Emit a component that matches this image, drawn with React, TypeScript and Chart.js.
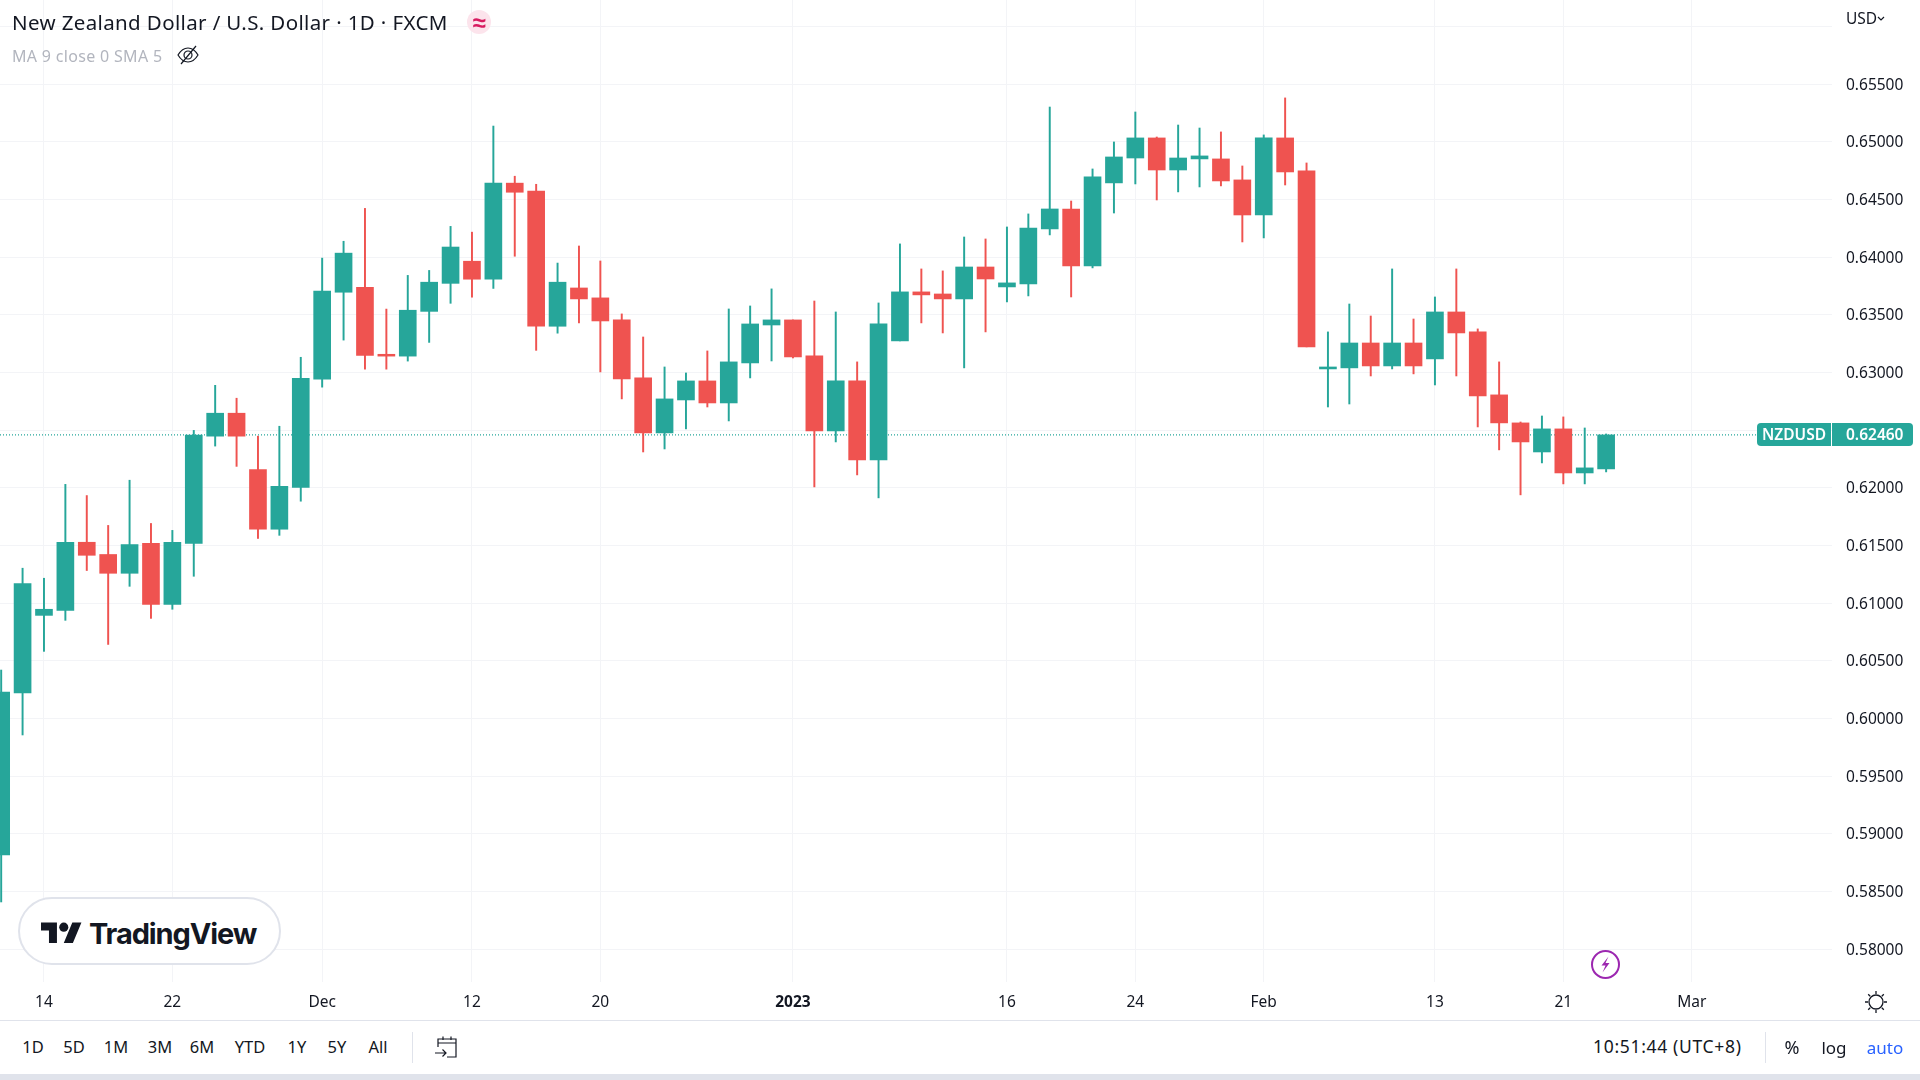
import React, { useEffect, useRef } from "react";
import { Chart, registerables } from "chart.js";

Chart.register(...registerables);

const dates = [
  "2022-11-10","2022-11-11","2022-11-14","2022-11-15","2022-11-16","2022-11-17","2022-11-18",
  "2022-11-21","2022-11-22","2022-11-23","2022-11-24","2022-11-25","2022-11-28","2022-11-29","2022-11-30",
  "2022-12-01","2022-12-02","2022-12-05","2022-12-06","2022-12-07","2022-12-08","2022-12-09",
  "2022-12-12","2022-12-13","2022-12-14","2022-12-15","2022-12-16","2022-12-19","2022-12-20","2022-12-21",
  "2022-12-22","2022-12-23","2022-12-26","2022-12-27","2022-12-28","2022-12-29","2022-12-30",
  "2023-01-02","2023-01-03","2023-01-04","2023-01-05","2023-01-06","2023-01-09","2023-01-10","2023-01-11",
  "2023-01-12","2023-01-13","2023-01-16","2023-01-17","2023-01-18","2023-01-19","2023-01-20",
  "2023-01-23","2023-01-24","2023-01-25","2023-01-26","2023-01-27","2023-01-30","2023-01-31",
  "2023-02-01","2023-02-02","2023-02-03","2023-02-06","2023-02-07","2023-02-08","2023-02-09","2023-02-10",
  "2023-02-13","2023-02-14","2023-02-15","2023-02-16","2023-02-17","2023-02-20","2023-02-21","2023-02-22","2023-02-23",
];
const opens = [
  0.58817,0.60222,0.60895,0.60938,0.61529,0.61423,0.6126,
  0.61519,0.60991,0.61519,0.62449,0.62648,0.6216,0.61642,0.62004,
  0.62944,0.63697,0.6374,0.63159,0.63143,0.63531,0.63774,
  0.63966,0.6381,0.64643,0.64574,0.63402,0.63734,0.63648,0.63457,
  0.62954,0.62477,0.62763,0.62928,0.62737,0.63084,0.63413,
  0.63457,0.63145,0.62494,0.62928,0.62243,0.63275,0.637,0.63682,
  0.63639,0.63916,0.63743,0.63769,0.64246,0.64419,0.63925,
  0.64645,0.64861,0.65035,0.64757,0.64853,0.64853,0.64671,
  0.64367,0.65035,0.64749,0.63032,0.63041,0.63257,0.63058,0.63257,
  0.63119,0.63526,0.63353,0.62807,0.62564,0.62312,0.62512,0.6213,0.62165,
];
const highs = [
  0.60421,0.61304,0.61217,0.62031,0.61934,0.61675,0.62067,
  0.61692,0.61632,0.62499,0.6289,0.62778,0.62449,0.62535,0.63133,
  0.63993,0.64139,0.64424,0.63551,0.63843,0.63886,0.64268,
  0.64218,0.65138,0.64703,0.64633,0.6395,0.64098,0.63968,0.63509,
  0.63309,0.63049,0.62997,0.63188,0.63552,0.63578,0.63726,
  0.63457,0.63621,0.63526,0.63093,0.63604,0.64116,0.63899,0.63882,
  0.64176,0.64159,0.64263,0.64376,0.65303,0.64488,0.64766,
  0.65,0.6526,0.65043,0.65147,0.65121,0.65087,0.64792,
  0.65061,0.65382,0.64818,0.63353,0.63595,0.63491,0.63899,0.63465,
  0.63656,0.63899,0.63379,0.63093,0.62572,0.62624,0.62616,0.6252,0.62468,
];
const lows = [
  0.5841,0.59858,0.60583,0.60852,0.61284,0.60643,0.61147,
  0.60869,0.60948,0.61234,0.62363,0.62187,0.61562,0.61589,0.61885,
  0.62874,0.63282,0.6303,0.6303,0.631,0.63262,0.63601,
  0.63654,0.6373,0.64009,0.63193,0.63342,0.63431,0.63006,0.62772,
  0.62312,0.62338,0.62512,0.62702,0.62581,0.62954,0.63101,
  0.63127,0.62009,0.62399,0.62113,0.61914,0.63275,0.63431,0.63344,
  0.63041,0.63353,0.63613,0.63665,0.64194,0.63656,0.63908,
  0.64384,0.64636,0.64497,0.64567,0.6461,0.64619,0.64133,
  0.64168,0.64627,0.63223,0.62702,0.62728,0.62971,0.63032,0.62989,
  0.62893,0.62971,0.62529,0.6233,0.6194,0.62217,0.62035,0.62035,0.62139,
];
const closes = [
  0.60231,0.61171,0.60948,0.61529,0.61416,0.6126,0.61509,
  0.60991,0.61529,0.62459,0.62648,0.62449,0.61642,0.62014,0.6295,
  0.63707,0.64036,0.63149,0.63143,0.63541,0.63784,0.64089,
  0.6381,0.64643,0.64564,0.63402,0.63784,0.63639,0.63448,0.62945,
  0.62477,0.62772,0.62928,0.62737,0.63093,0.63422,0.63457,
  0.63136,0.62494,0.62928,0.62243,0.63422,0.637,0.63674,0.63639,
  0.63916,0.63812,0.63778,0.64254,0.64419,0.63925,0.64697,
  0.6487,0.65035,0.64757,0.64861,0.64879,0.64662,0.64367,
  0.65035,0.6474,0.63223,0.63049,0.63257,0.63058,0.63257,0.63058,
  0.63526,0.63344,0.62798,0.62564,0.62399,0.62512,0.6213,0.62174,0.6246,
];
const lastPrice = 0.6246;
const priceTicks = [0.58,0.585,0.59,0.595,0.6,0.605,0.61,0.615,0.62,0.625,0.63,0.635,0.64,0.645,0.65,0.655,0.66];
const tickIndices = [2, 8, 15, 22, 28, 37, 47, 53, 59, 67, 73, 79];
const tickLabels = ["14", "22", "Dec", "12", "20", "2023", "16", "24", "Feb", "13", "21", "Mar"];
const intervals = ["1D", "5D", "1M", "3M", "6M", "YTD", "1Y", "5Y", "All"];
const intervalCenters = [33, 74, 116, 160, 202, 250, 297, 337, 378];

const UP = "#26a69a";
const DOWN = "#ef5350";
const GRID = "#f3f4f7";
const INK = "#131722";
const FONT = '"Noto Sans", sans-serif';
const X_MIN = -0.055;
const X_MAX = 85.555;

function T(props: { x: number; y: number; s?: number; c?: string; w?: number; a?: "l" | "c"; ls?: number; children: any }) {
  const { x, y, s = 15.5, c = INK, w = 400, a = "l", ls = 0, children } = props;
  return (
    <div
      style={{
        position: "absolute",
        left: x,
        top: y,
        transform: a === "c" ? "translate(-50%,-50%)" : "translateY(-50%)",
        fontFamily: FONT,
        fontSize: s,
        fontWeight: w,
        color: c,
        letterSpacing: ls,
        whiteSpace: "nowrap",
        lineHeight: 1,
      }}
    >
      {children}
    </div>
  );
}

const noPad = (s: any) => {
  s.paddingTop = 0;
  s.paddingBottom = 0;
  s.paddingLeft = 0;
  s.paddingRight = 0;
};

export default function App() {
  const ref = useRef<HTMLCanvasElement | null>(null);
  useEffect(() => {
    document.body.style.margin = "0";
    document.body.style.overflow = "hidden";
    const colors = closes.map((c, i) => (c >= opens[i] ? UP : DOWN));
    const chart = new Chart(ref.current as HTMLCanvasElement, {
      type: "bar",
      data: {
        datasets: [
          {
            type: "bar",
            grouped: false,
            order: 1,
            barThickness: 17,
            backgroundColor: colors,
            data: dates.map((_, i) => ({ x: i, y: [Math.min(opens[i], closes[i]), Math.max(opens[i], closes[i])] })),
          },
          {
            type: "bar",
            grouped: false,
            order: 2,
            barThickness: 1.3,
            backgroundColor: colors,
            data: dates.map((_, i) => ({ x: i, y: [lows[i], highs[i]] })),
          },
          {
            type: "line",
            order: 3,
            borderColor: UP,
            borderWidth: 1.4,
            borderDash: [1, 2],
            pointRadius: 0,
            data: [
              { x: X_MIN, y: lastPrice },
              { x: X_MAX, y: lastPrice },
            ],
          },
        ] as any,
      },
      options: {
        animation: false,
        responsive: false,
        devicePixelRatio: 1,
        layout: { padding: 0 },
        plugins: { legend: { display: false }, tooltip: { enabled: false } },
        scales: {
          x: {
            type: "linear",
            offset: false,
            min: X_MIN,
            max: X_MAX,
            border: { display: false },
            grid: { color: GRID, drawTicks: false, offset: false },
            afterBuildTicks: (s: any) => {
              s.ticks = tickIndices.map((value) => ({ value }));
            },
            afterFit: (s: any) => {
              s.height = 38;
              noPad(s);
            },
            ticks: {
              autoSkip: false,
              maxRotation: 0,
              padding: 11,
              color: INK,
              font: (ctx: any) => ({
                family: FONT,
                size: 15.5,
                weight: ctx.tick && ctx.tick.label === "2023" ? "bold" : "normal",
              }),
              callback: (v: any) => tickLabels[tickIndices.indexOf(v)] ?? "",
            },
          },
          y: {
            type: "linear",
            position: "right",
            min: 0.57716,
            max: 0.66231,
            border: { display: false },
            grid: { color: GRID, drawTicks: false },
            afterBuildTicks: (s: any) => {
              s.ticks = priceTicks.map((value) => ({ value }));
            },
            afterFit: (s: any) => {
              s.width = 88;
              noPad(s);
            },
            ticks: {
              autoSkip: false,
              padding: 14,
              labelOffset: 1,
              color: INK,
              font: { family: FONT, size: 15.5 },
              callback: (v: any) => (Number(v) > 0.6575 ? "" : Number(v).toFixed(5)),
            },
          },
        },
      } as any,
    });
    return () => chart.destroy();
  }, []);

  return (
    <div style={{ position: "relative", width: 1920, height: 1080, overflow: "hidden", background: "#fff" }}>
      <canvas ref={ref} width={1920} height={1020} style={{ display: "block", width: 1920, height: 1020 }} />

      <T x={12} y={22} s={20.5} ls={0.37}>New Zealand Dollar / U.S. Dollar · 1D · FXCM</T>
      <div style={{ position: "absolute", left: 467, top: 10, width: 24, height: 24, borderRadius: 12, background: "#fce4ec" }} />
      <T x={479} y={22} s={24} c="#d81b60" w={700} a="c">≈</T>
      <T x={12} y={56} s={16} c="#b2b5be" ls={0.32}>MA 9 close 0 SMA 5</T>
      <svg style={{ position: "absolute", left: 176, top: 44 }} width={24} height={22} viewBox="0 0 24 22" fill="none" stroke={INK} strokeWidth={1.2}>
        <path d="M2 11c3-5 6.5-7 10-7s7 2 10 7c-3 5-6.5 7-10 7s-7-2-10-7z" />
        <circle cx={12} cy={11} r={4} />
        <path d="M5 20L20 2" />
      </svg>

      <T x={1846} y={18.5} s={15.5}>USD</T>
      <svg style={{ position: "absolute", left: 1877, top: 16 }} width={8} height={6} viewBox="0 0 8 6" fill="none" stroke={INK} strokeWidth={1.2}>
        <path d="M1 1l3 3 3-3" />
      </svg>

      <div style={{ position: "absolute", left: 1757, top: 423, width: 74, height: 23, background: UP, borderRadius: "4px 0 0 4px" }} />
      <div style={{ position: "absolute", left: 1832, top: 423, width: 81, height: 23, background: UP, borderRadius: "0 4px 4px 0" }} />
      <T x={1794} y={434.5} s={15.5} c="#fff" w={600} a="c">NZDUSD</T>
      <T x={1846} y={434.5} s={15.5} c="#fff" w={600}>0.62460</T>

      <div style={{ position: "absolute", left: 18, top: 897, width: 263, height: 68, boxSizing: "border-box", border: "2px solid #e0e3eb", borderRadius: 34, background: "#fff" }} />
      <svg style={{ position: "absolute", left: 41, top: 918 }} width={41} height={32} viewBox="0 0 36 28" fill={INK}>
        <path d="M14 22H7V11H0V4h14v18zM28 22h-8l7.5-18h8L28 22z" />
        <circle cx={20} cy={8} r={4} />
      </svg>
      <T x={89} y={933} s={29} w={700}>
        <span style={{ fontFamily: "Inter, sans-serif", letterSpacing: -1.1 }}>TradingView</span>
      </T>

      <svg style={{ position: "absolute", left: 1590, top: 949 }} width={31} height={31} viewBox="0 0 31 31">
        <circle cx={15.5} cy={15.5} r={13.5} fill="#fff" stroke="#9c27b0" strokeWidth={2} />
        <path d="M18.5 7.5l-7 9h4l-3 7 7-9.5h-4z" fill="#9c27b0" />
      </svg>

      <svg style={{ position: "absolute", left: 1864, top: 990 }} width={24} height={24} viewBox="0 0 24 24" fill="none" stroke={INK} strokeWidth={1.3}>
        <circle cx={12} cy={12} r={7} />
        <path d="M12 1v3M12 20v3M1 12h3M20 12h3M4.2 4.2l2 2M17.8 17.8l2 2M19.8 4.2l-2 2M6.2 17.8l-2 2" />
      </svg>

      <div style={{ position: "absolute", left: 0, top: 1020, width: 1920, height: 1, background: "#e0e3eb" }} />
      {intervals.map((t, i) => (
        <T key={t} x={intervalCenters[i]} y={1047} s={16.5} a="c">{t}</T>
      ))}
      <div style={{ position: "absolute", left: 412, top: 1032, width: 1, height: 31, background: "#e0e3eb" }} />
      <svg style={{ position: "absolute", left: 434, top: 1035 }} width={26} height={24} viewBox="0 0 26 24" fill="none" stroke={INK} strokeWidth={1.2}>
        <path d="M4 12V4h18v18H13M4 8h18M9 1.5V5M17 1.5V5M1 18h11M8.5 14.5L12 18l-3.5 3.5" />
      </svg>

      <T x={1593} y={1047} s={17.5} ls={0.68}>10:51:44 (UTC+8)</T>
      <div style={{ position: "absolute", left: 1765, top: 1032, width: 1, height: 31, background: "#e0e3eb" }} />
      <T x={1792} y={1047} s={18} a="c">%</T>
      <T x={1834} y={1047} s={17} a="c">log</T>
      <T x={1885} y={1047} s={17} c="#2962ff" a="c">auto</T>
      <div style={{ position: "absolute", left: 0, top: 1074, width: 1920, height: 6, background: "#e0e3eb" }} />
    </div>
  );
}
